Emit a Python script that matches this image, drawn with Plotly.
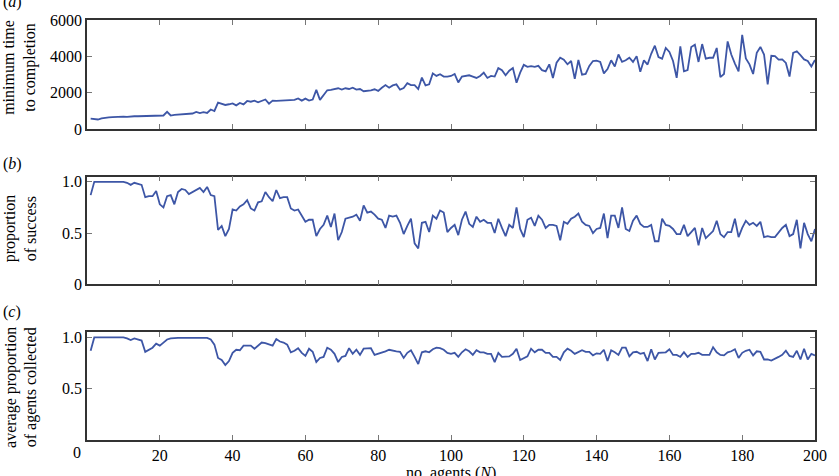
import plotly.graph_objects as go

agents = list(range(1, 201))

min_time = [
    570, 560, 520, 580, 620, 640, 650, 670, 680, 680,
    660, 690, 700, 700, 710, 710, 715, 720, 730, 730,
    740, 940, 740, 780, 790, 800, 810, 830, 850, 940,
    870, 920, 880, 1070, 990, 1450, 1380, 1320, 1360, 1410,
    1300, 1430, 1350, 1540, 1500, 1560, 1470, 1560, 1620, 1390,
    1560, 1550, 1560, 1580, 1620, 1600, 1600, 1680, 1560, 1670,
    1560, 1620, 2150, 1600, 1850, 2130, 2150, 2200, 2240, 2165,
    2240, 2200, 2270, 2165, 2200, 2077, 2095, 2130, 2185, 2095,
    2270, 2418, 2270, 2400, 2455, 2165, 2255, 2525, 2418, 2418,
    2200, 2830, 2400, 2455, 3060, 2920, 3010, 2885, 2885, 2920,
    3027, 2560, 2885, 2920, 2955, 2885, 2810, 2920, 3100, 2810,
    2920, 2885, 3350, 3240, 2955, 3205, 3350, 2545, 3100, 3530,
    3420, 3455, 3420, 3475, 3240, 3170, 3560, 2810, 3650, 3920,
    3815, 3560, 3740, 2760, 3800, 2990, 3027, 3475, 3740, 3760,
    3690, 3060, 3295, 3780, 3440, 4100, 3690, 3780, 3920, 3690,
    4010, 3150, 3780, 3545, 4140, 4585, 3960, 3870, 4460, 4240,
    3740, 2810, 4550, 3170, 3240, 4515, 4640, 3690, 4675, 3870,
    3920, 3920, 4460, 2850, 3027, 4820, 4100, 3600, 3170, 5180,
    3885, 3560, 3027, 4190, 4515, 4100, 2455, 4030, 4010, 3815,
    3830, 3635, 2885, 4190, 4280, 4060, 3830, 3740, 3440, 3800,
]

success = [
    0.87, 1.00, 1.00, 1.00, 1.00, 1.00, 1.00, 1.00, 1.00, 1.00,
    0.99, 0.97, 0.99, 0.98, 0.97, 0.85, 0.86, 0.86, 0.91, 0.78,
    0.75, 0.86, 0.87, 0.78, 0.90, 0.93, 0.92, 0.88, 0.90, 0.92,
    0.94, 0.90, 0.95, 0.87, 0.86, 0.53, 0.57, 0.47, 0.54, 0.73,
    0.72, 0.76, 0.78, 0.82, 0.74, 0.72, 0.80, 0.81, 0.90, 0.85,
    0.81, 0.92, 0.84, 0.85, 0.85, 0.74, 0.72, 0.73, 0.67, 0.61,
    0.63, 0.63, 0.47, 0.54, 0.58, 0.67, 0.56, 0.69, 0.43, 0.51,
    0.64, 0.65, 0.66, 0.68, 0.62, 0.77, 0.70, 0.71, 0.68, 0.64,
    0.63, 0.55, 0.67, 0.66, 0.67, 0.60, 0.49, 0.57, 0.64, 0.40,
    0.35, 0.60, 0.61, 0.51, 0.67, 0.64, 0.72, 0.70, 0.51, 0.55,
    0.58, 0.48, 0.63, 0.71, 0.59, 0.56, 0.66, 0.61, 0.63, 0.60,
    0.60, 0.50, 0.64, 0.55, 0.47, 0.58, 0.55, 0.75, 0.54, 0.46,
    0.63, 0.65, 0.57, 0.67, 0.63, 0.55, 0.58, 0.58, 0.57, 0.43,
    0.61, 0.59, 0.64, 0.66, 0.69, 0.61, 0.58, 0.57, 0.50, 0.54,
    0.55, 0.69, 0.45, 0.67, 0.67, 0.55, 0.75, 0.54, 0.52, 0.62,
    0.67, 0.59, 0.56, 0.56, 0.58, 0.42, 0.42, 0.64, 0.58, 0.57,
    0.54, 0.49, 0.49, 0.58, 0.47, 0.51, 0.55, 0.38, 0.55, 0.45,
    0.49, 0.52, 0.62, 0.49, 0.46, 0.51, 0.51, 0.64, 0.46, 0.55,
    0.62, 0.58, 0.60, 0.57, 0.61, 0.46, 0.47, 0.46, 0.46, 0.51,
    0.55, 0.58, 0.47, 0.49, 0.63, 0.35, 0.60, 0.49, 0.42, 0.54,
]

collected = [
    0.87, 1.00, 1.00, 1.00, 1.00, 1.00, 1.00, 1.00, 1.00, 1.00,
    0.99, 0.975, 0.99, 0.98, 0.97, 0.86, 0.88, 0.90, 0.94, 0.92,
    0.95, 0.98, 0.99, 0.995, 0.995, 0.995, 0.995, 0.995, 0.995, 0.995,
    0.995, 0.995, 0.995, 0.98, 0.93, 0.80, 0.78, 0.73, 0.77, 0.85,
    0.88, 0.875, 0.92, 0.92, 0.92, 0.89, 0.92, 0.95, 0.945, 0.93,
    0.92, 0.985, 0.96, 0.95, 0.93, 0.855, 0.87, 0.895, 0.85, 0.82,
    0.89, 0.86, 0.76, 0.80, 0.81, 0.90, 0.88, 0.84, 0.76, 0.81,
    0.82, 0.895, 0.84, 0.88, 0.83, 0.89, 0.895, 0.895, 0.83, 0.84,
    0.85, 0.865, 0.88, 0.87, 0.865, 0.86, 0.80, 0.85, 0.875, 0.81,
    0.74, 0.855, 0.865, 0.855, 0.885, 0.90, 0.895, 0.88, 0.85, 0.84,
    0.85, 0.81, 0.855, 0.885, 0.865, 0.83, 0.875, 0.855, 0.855, 0.84,
    0.84, 0.76, 0.85, 0.81, 0.815, 0.815, 0.84, 0.89, 0.78, 0.795,
    0.815, 0.89, 0.855, 0.88, 0.88, 0.85, 0.85, 0.81, 0.81, 0.78,
    0.855, 0.89, 0.87, 0.84, 0.86, 0.875, 0.86, 0.86, 0.825, 0.845,
    0.84, 0.88, 0.77, 0.875, 0.855, 0.83, 0.90, 0.90, 0.815, 0.855,
    0.86, 0.84, 0.85, 0.77, 0.885, 0.785, 0.85, 0.855, 0.855, 0.885,
    0.83, 0.83, 0.81, 0.855, 0.81, 0.84, 0.84, 0.85, 0.83, 0.83,
    0.83, 0.905, 0.855, 0.83, 0.825, 0.855, 0.865, 0.885, 0.80, 0.85,
    0.87, 0.88, 0.825, 0.865, 0.86, 0.785, 0.785, 0.775, 0.79, 0.81,
    0.83, 0.87, 0.82, 0.81, 0.87, 0.785, 0.89, 0.785, 0.84, 0.825,
]

x_ticks = [0, 20, 40, 60, 80, 100, 120, 140, 160, 180, 200]
x_ticktext = ["", "20", "40", "60", "80", "100", "120", "140", "160", "180", "200"]

LINE = "#3d56a6"
AX = "#333333"
FONT = "Liberation Serif"
FS = 16

fig = go.Figure()
fig.add_trace(go.Scatter(x=agents, y=min_time, mode="lines", line=dict(color=LINE, width=1.8),
                         xaxis="x", yaxis="y"))
fig.add_trace(go.Scatter(x=agents, y=success, mode="lines", line=dict(color=LINE, width=1.8),
                         xaxis="x2", yaxis="y2"))
fig.add_trace(go.Scatter(x=agents, y=collected, mode="lines", line=dict(color=LINE, width=1.8),
                         xaxis="x3", yaxis="y3"))

common_x = dict(range=[0, 200], tickvals=x_ticks, ticks="inside", ticklen=5, tickcolor="#777777",
                showline=True, linecolor=AX, linewidth=1.5, mirror="allticks", showgrid=False,
                zeroline=False)
common_y = dict(ticks="inside", ticklen=5, tickcolor="#777777", showline=True, linecolor=AX,
                linewidth=1.5, mirror="allticks", showgrid=False, zeroline=False)

fig.update_layout(
    width=839, height=476,
    margin=dict(l=87, r=15, t=15, b=32),
    plot_bgcolor="white", paper_bgcolor="white",
    showlegend=False,
    font=dict(family=FONT, size=FS, color="black"),
    xaxis=dict(**common_x, domain=[0, 1], anchor="y", showticklabels=False),
    yaxis=dict(**common_y, domain=[0.7406, 1.0], range=[0, 6000], tickvals=[0, 2000, 4000, 6000],
               anchor="x"),
    xaxis2=dict(**common_x, domain=[0, 1], anchor="y2", showticklabels=False),
    yaxis2=dict(**common_y, domain=[0.3706, 0.627], range=[0, 1.05], tickvals=[0, 0.5, 1.0],
                ticktext=["0", "0.5", "1.0"], anchor="x2"),
    xaxis3=dict(**common_x, domain=[0, 1], anchor="y3", showticklabels=True, ticktext=x_ticktext),
    yaxis3=dict(**common_y, domain=[0.0, 0.2564], range=[0, 1.05], tickvals=[0.5, 1.0],
                ticktext=["0.5", "1.0"], anchor="x3"),
)

def px_to_paper_x(px):
    return (px - 87) / 737.0

def py_to_paper_y(py):
    return 1 - (py - 15) / 429.0

annots = [
    dict(text="(<i>a</i>)", x=px_to_paper_x(0), y=py_to_paper_y(-3), xanchor="left", yanchor="middle"),
    dict(text="(<i>b</i>)", x=px_to_paper_x(0), y=py_to_paper_y(162), xanchor="left", yanchor="middle"),
    dict(text="(<i>c</i>)", x=px_to_paper_x(0), y=py_to_paper_y(313), xanchor="left", yanchor="middle"),
    dict(text="minimum time<br>to completion", x=px_to_paper_x(19), y=py_to_paper_y(63),
         textangle=-90, xanchor="center", yanchor="middle"),
    dict(text="proportion<br>of success", x=px_to_paper_x(19), y=py_to_paper_y(228),
         textangle=-90, xanchor="center", yanchor="middle"),
    dict(text="average proportion<br>of agents collected", x=px_to_paper_x(20), y=py_to_paper_y(390),
         textangle=-90, xanchor="center", yanchor="middle"),
    dict(text="0", x=px_to_paper_x(77), y=py_to_paper_y(457), xanchor="center", yanchor="middle"),
    dict(text="no. agents (<i>N</i>)", x=px_to_paper_x(455), y=py_to_paper_y(478),
         xanchor="center", yanchor="middle"),
]
for a in annots:
    fig.add_annotation(xref="paper", yref="paper", showarrow=False,
                       font=dict(family=FONT, size=FS, color="black"), **a)

fig.write_html("out.html")
